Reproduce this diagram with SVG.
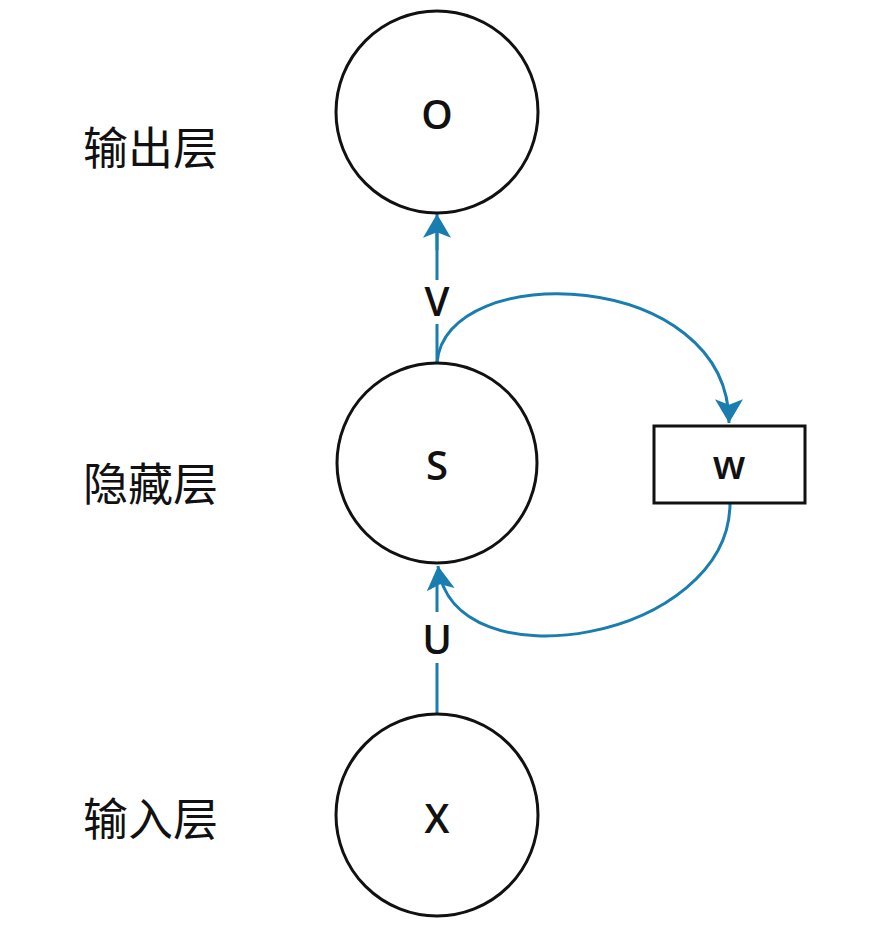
<svg xmlns="http://www.w3.org/2000/svg" width="892" height="925" viewBox="0 0 892 925">
<defs>
<marker id="ah" markerUnits="userSpaceOnUse" markerWidth="28" markerHeight="28" viewBox="0 0 22 26" refX="22" refY="13" orient="auto">
<path d="M0,0 L22,13 L0,26 L5,13 Z" fill="#1a7db0"/>
</marker>
<style>
.node{fill:#fff;stroke:#111;stroke-width:3}
.lbl{font-family:"Open Sans","Noto Sans",sans-serif;font-size:40px;font-weight:600;fill:#111;text-anchor:middle;dominant-baseline:central}
.cjk{font-family:"Noto Sans CJK SC",sans-serif;font-size:45px;font-weight:400;fill:#111}
.edge{fill:none;stroke:#1a7db0;stroke-width:3}
</style>
</defs>
<rect width="892" height="925" fill="#fff"/>
<g id="connectors">
<path class="edge" d="M437,280 L437,232" />
<path class="edge" d="M437,363 L437,324" />
<path class="edge" d="M437,250 L437,214" marker-end="url(#ah)"/>
<path class="edge" d="M437,363 C445,258 729,268 729,423" marker-end="url(#ah)"/>
<path class="edge" d="M730,503 C730,640 452,688 438,566" marker-end="url(#ah)"/>
<path class="edge" d="M437,715 L437,663" />
<path class="edge" d="M437,612 L437,585" />
</g>
<g id="node-O"><circle class="node" cx="437" cy="112" r="101"/><text class="lbl" x="437" y="113">O</text></g>
<g id="node-S"><circle class="node" cx="437" cy="463" r="100"/><text class="lbl" x="437" y="464">S</text></g>
<g id="node-X"><circle class="node" cx="437" cy="815" r="101"/><text class="lbl" x="437" y="817">X</text></g>
<g id="node-W"><rect class="node" x="654" y="426" width="151" height="77"/><text class="lbl" x="729" y="463">w</text></g>
<g id="label-V"><text class="lbl" x="437" y="300">V</text></g>
<g id="label-U"><text class="lbl" x="437" y="638">U</text></g>
<g id="layer-labels">
<text class="cjk" x="83" y="165">输出层</text>
<text class="cjk" x="83" y="501">隐藏层</text>
<text class="cjk" x="83" y="836">输入层</text>
</g>
</svg>
